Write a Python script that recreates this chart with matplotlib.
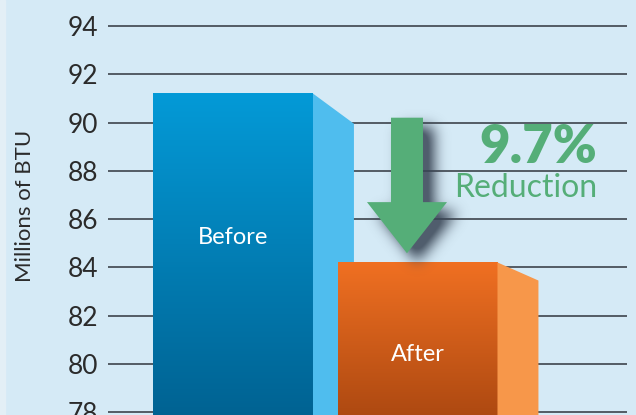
import matplotlib.pyplot as plt
import numpy as np
from matplotlib.colors import LinearSegmentedColormap
from matplotlib.patches import Polygon, Rectangle
from matplotlib.path import Path

# data
labels = ['Before', 'After']
values = [91.2, 84.2]
yticks = [78, 80, 82, 84, 86, 88, 90, 92, 94]
pct_text = '9.7%'
sub_text = 'Reduction'
ylabel = 'Millions of BTU'

# styling
bg = '#d5eaf6'
front_top = ['#049ad7', '#f07022']
front_bot = ['#005f8e', '#a5440f']
side_col = ['#4fbdee', '#f7974a']
side_drop = [1.25, 0.75]   # fall of the side face top edge (data units)
side_dx = 0.222
bar_w = 0.867
label_frac = [0.553, 0.397]
green = '#55ae78'
xlim = (-0.6775, 2.1355)
ylim = (77.876, 95.079)

plt.rcParams['font.family'] = ['Lato', 'DejaVu Sans']

fig = plt.figure(figsize=(6.36, 4.15), dpi=100)
fig.patch.set_facecolor(bg)
fig.patches.append(Rectangle((0, 0), 5 / 636, 1, transform=fig.transFigure,
                             color='#e3eff6', zorder=0))

ax = fig.add_axes([108 / 636, 0, 519 / 636, 1])
ax.set_facecolor('none')
for s in ax.spines.values():
    s.set_visible(False)

base = 77.0
x = np.arange(len(values))
bars = ax.bar(x, np.array(values) - base, bottom=base, width=bar_w,
              color='none', zorder=2)

grad = np.linspace(0, 1, 256)[:, None]
for i, b in enumerate(bars):
    x0, w, top = b.get_x(), b.get_width(), b.get_y() + b.get_height()
    cm = LinearSegmentedColormap.from_list('g%d' % i, [front_top[i], front_bot[i]])
    ax.imshow(grad, cmap=cm, extent=[x0, x0 + w, base, top], origin='upper',
              aspect='auto', zorder=2 + 2 * i, interpolation='bilinear')
    side = Polygon([(x0 + w, top), (x0 + w + side_dx, top - side_drop[i]),
                    (x0 + w + side_dx, base), (x0 + w, base)],
                   closed=True, facecolor=side_col[i], edgecolor='none',
                   zorder=2.5 + 2 * i)
    ax.add_patch(side)
    ax.text(x[i], ylim[0] + (top - ylim[0]) * label_frac[i], labels[i],
            color='white', fontsize=17, ha='center', va='center', zorder=8)

# down arrow between the two bars
ax_x = x[1] - 0.057
a_top = values[0] - 1.0
a_neck = values[1] + 2.5
a_tip = values[1] + 0.38
sw, hw = 0.0867, 0.2168
verts = [(ax_x - sw, a_top), (ax_x + sw, a_top), (ax_x + sw, a_neck),
         (ax_x + hw, a_neck), (ax_x, a_tip), (ax_x - hw, a_neck),
         (ax_x - sw, a_neck), (ax_x - sw, a_top)]

# blurred shadow behind the arrow
px_x, px_y = 184.5, 24.1
ex = [ax_x - 0.45, ax_x + 0.6, a_tip - 1.8, a_top + 0.6]
nx = int((ex[1] - ex[0]) * px_x)
ny = int((ex[3] - ex[2]) * px_y)
gx, gy = np.meshgrid(np.linspace(ex[0], ex[1], nx), np.linspace(ex[2], ex[3], ny))
off = np.array([10 / px_x, -9 / px_y])
sh_path = Path(np.array(verts) + off)
mask = sh_path.contains_points(np.c_[gx.ravel(), gy.ravel()]).reshape(ny, nx).astype(float)
k = np.exp(-0.5 * (np.arange(-21, 22) / 7.0) ** 2)
k /= k.sum()
mask = np.apply_along_axis(lambda r: np.convolve(r, k, mode='same'), 1, mask)
mask = np.apply_along_axis(lambda c: np.convolve(c, k, mode='same'), 0, mask)
rgba = np.zeros((ny, nx, 4))
rgba[..., :3] = np.array([0.22, 0.27, 0.33])
rgba[..., 3] = np.clip(mask * 1.1, 0, 0.85)
ax.imshow(rgba, extent=ex, origin='lower', aspect='auto', zorder=6)

ax.add_patch(Polygon(verts, closed=True, facecolor=green, edgecolor='none', zorder=7))

ax.text(1.653, 88.98, pct_text, color=green, fontsize=38, fontweight='heavy',
        ha='center', va='center', zorder=8)
ax.text(1.588, 87.28, sub_text, color=green, fontsize=23,
        ha='center', va='center', zorder=8)

ax.set_xlim(*xlim)
ax.set_ylim(*ylim)
ax.set_yticks(yticks)
ax.set_xticks([])
ax.yaxis.grid(True, color='#3d444c', linewidth=1.2)
ax.set_axisbelow(True)
ax.tick_params(axis='y', length=0, pad=7, labelsize=19, labelcolor='#2b2b2b')
ax.set_ylabel(ylabel, fontsize=16, color='#2b2b2b')
ax.yaxis.set_label_coords(-(108 - 35) / 519, 0.503)

fig.savefig('out.png', dpi=100, facecolor=bg)
